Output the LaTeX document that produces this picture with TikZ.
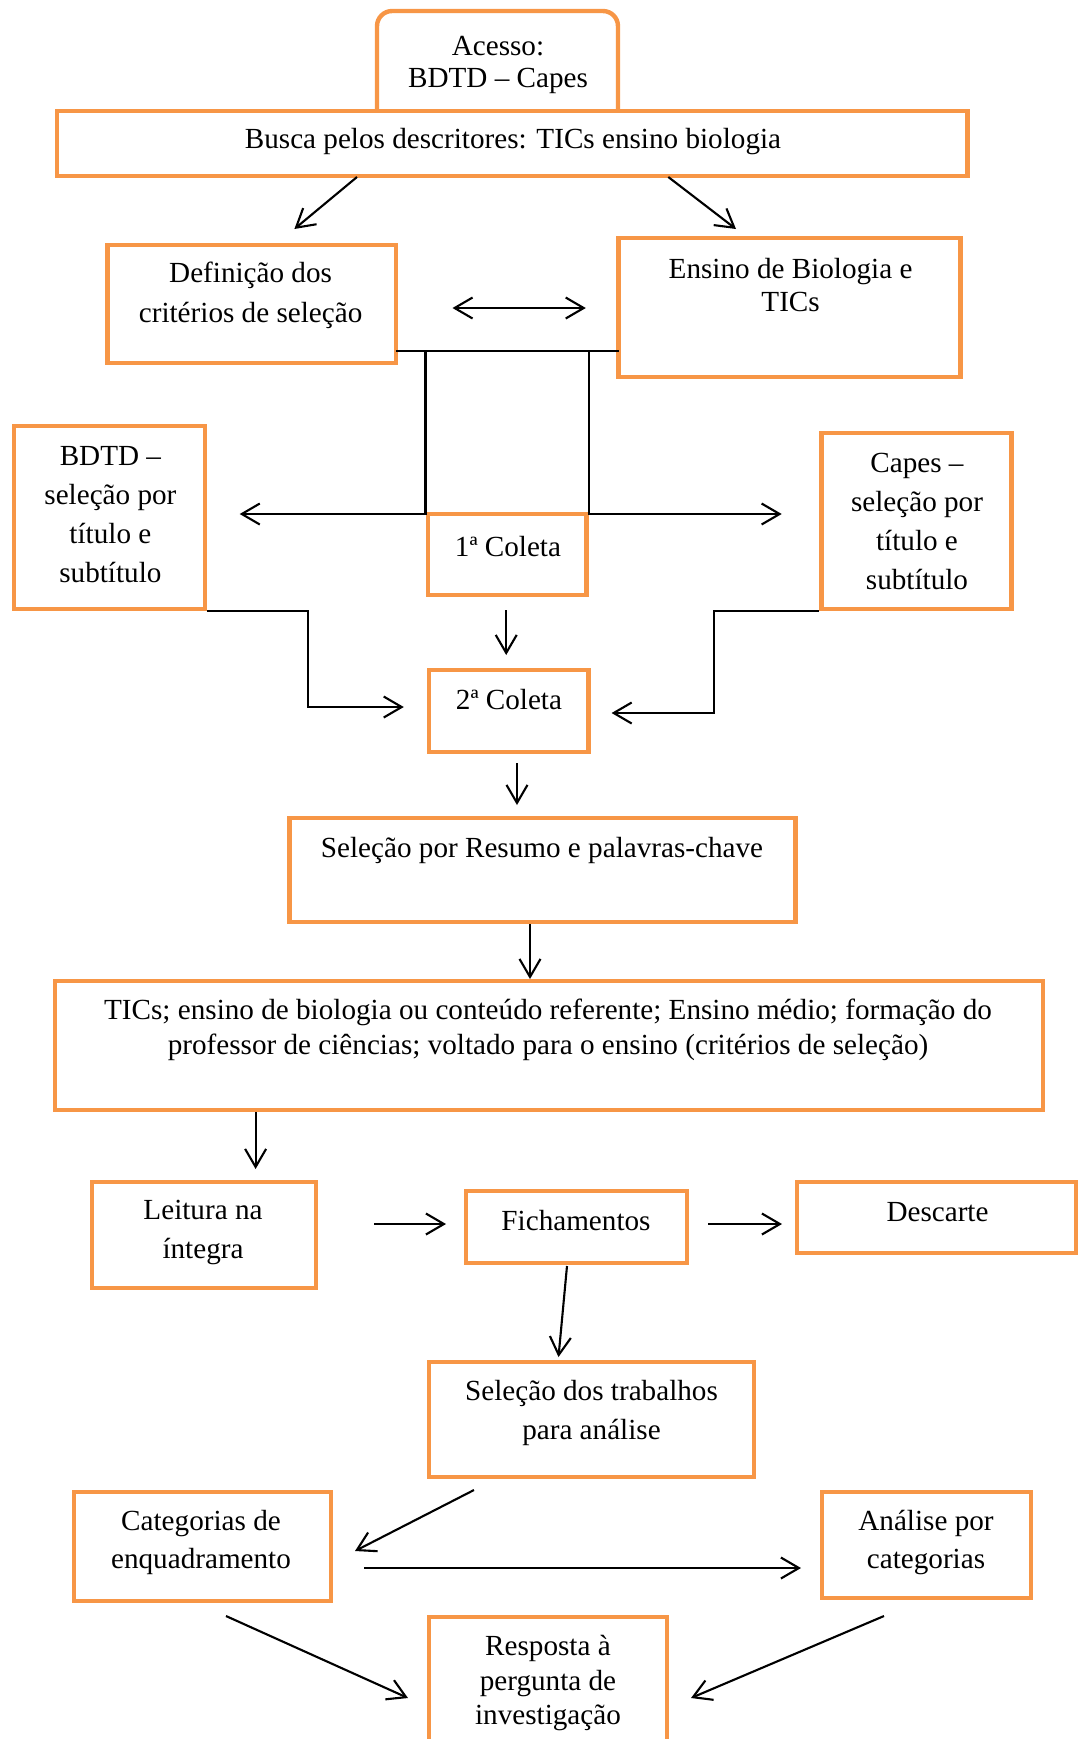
\documentclass[tikz,border=0pt]{standalone}
\usepackage{fontspec}
\setmainfont{Liberation Serif}
\usetikzlibrary{arrows.meta}
\definecolor{boxorange}{RGB}{247,150,70}
\newcommand\boxfont[1]{\fontsize{16.6}{#1}\selectfont}

\begin{document}
\begin{tikzpicture}[x=0.02cm, y=-0.02cm,
    box/.style={draw=boxorange, line width=2.5pt, fill=white, inner sep=0pt},
    txt/.style={align=center, inner sep=0pt, font=\boxfont{22.1}},
    conn/.style={line width=1.2pt},
    arr/.style={conn, -{Straight Barb[length=0.36cm, width=0.42cm]}}]

\useasboundingbox (0,0) rectangle (1080,1739);
\clip (0,0) rectangle (1080,1739);

\node[box, rounded corners=0.3cm, minimum width=4.82cm, minimum height=2.58cm] (acesso) at (497.5,75.5) {};
\node[box, minimum width=18.22cm, minimum height=1.30cm] (busca) at (512.2,143.5) {};
\node[box, minimum width=5.77cm, minimum height=2.36cm] (defin) at (251.6,304) {};
\node[box, minimum width=6.84cm, minimum height=2.78cm] (ensino) at (789.6,307.5) {};
\node[box, minimum width=3.82cm, minimum height=3.66cm] (bdtd) at (109.4,517.5) {};
\node[box, minimum width=3.80cm, minimum height=3.52cm] (capes) at (916.4,521) {};
\node[box, minimum width=3.18cm, minimum height=1.62cm] (coleta1) at (507.2,554.5) {};
\node[box, minimum width=3.20cm, minimum height=1.64cm] (coleta2) at (508.7,711) {};
\node[box, minimum width=10.12cm, minimum height=2.08cm] (resumo) at (542.5,870) {};
\node[box, minimum width=19.77cm, minimum height=2.58cm] (tics) at (549,1045.5) {};
\node[box, minimum width=4.49cm, minimum height=2.12cm] (leitura) at (204,1235) {};
\node[box, minimum width=4.42cm, minimum height=1.44cm] (ficha) at (576.5,1227) {};
\node[box, minimum width=5.58cm, minimum height=1.42cm] (descarte) at (936.5,1217.5) {};
\node[box, minimum width=6.50cm, minimum height=2.30cm] (trab) at (591.5,1419.5) {};
\node[box, minimum width=5.14cm, minimum height=2.18cm] (categ) at (202.5,1546.5) {};
\node[box, minimum width=4.18cm, minimum height=2.12cm] (analise) at (926.5,1545) {};
\node[box, minimum width=4.76cm, minimum height=3.20cm] (resposta) at (548,1697) {};

\node[txt, font=\boxfont{18.7}] (acessoT) at (498,65) {Acesso:\\BDTD – Capes};
\node[txt] (buscaT) at (513,142) {Busca pelos descritores: TICs ensino biologia};
\node[txt, font=\boxfont{22.7}] (definT) at (250.6,295.5) {Definição dos\\critérios de seleção};
\node[txt, font=\boxfont{19.3}] (ensinoT) at (790.6,285) {Ensino de Biologia e\\TICs};
\node[txt] (bdtdT) at (110.4,514.5) {BDTD –\\seleção por\\título e\\subtítulo};
\node[txt] (capesT) at (917,521.5) {Capes –\\seleção por\\título e\\subtítulo};
\node[txt] (coleta1T) at (508,547) {1ª Coleta};
\node[txt] (coleta2T) at (509,700) {2ª Coleta};
\node[txt] (resumoT) at (542,850) {Seleção por Resumo e palavras-chave};
\node[txt, font=\boxfont{19.8}] (ticsT) at (548,1029.5) {TICs; ensino de biologia ou conteúdo referente; Ensino médio; formação do\\professor de ciências; voltado para o ensino (critérios de seleção)};
\node[txt] (leituraT) at (203,1232.5) {Leitura na\\íntegra};
\node[txt] (fichaT) at (576,1221) {Fichamentos};
\node[txt] (descarteT) at (937.5,1212) {Descarte};
\node[txt] (trabT) at (591.5,1413) {Seleção dos trabalhos\\para análise};
\node[txt] (categT) at (201,1542.5) {Categorias de\\enquadramento};
\node[txt] (analiseT) at (926,1542.5) {Análise por\\categorias};
\node[txt, font=\boxfont{19.4}] (respostaT) at (548,1683) {Resposta à\\pergunta de\\investigação};

\coordinate (buscaL) at (357,177);
\coordinate (definIn) at (294.4,229);
\coordinate (buscaR) at (668.3,177);
\coordinate (ensinoIn) at (736,229);
\coordinate (twoL) at (452.5,308);
\coordinate (twoR) at (585.8,308);
\coordinate (barL) at (395.8,351);
\coordinate (barR) at (618.6,351);
\coordinate (bdtdIn) at (239.7,514);
\coordinate (capesIn) at (781.7,514);
\coordinate (c1out) at (506.2,610);
\coordinate (c2in) at (506.2,655);
\coordinate (bdtdBend) at (308.3,707);
\coordinate (c2left) at (403.8,707);
\coordinate (capesBend) at (714,713);
\coordinate (c2right) at (611.6,713);
\coordinate (c2out) at (517,763);
\coordinate (resumoIn) at (517,805);
\coordinate (resumoOut) at (530,924);
\coordinate (ticsIn) at (530,979);
\coordinate (ticsOut) at (255.6,1112);
\coordinate (leituraIn) at (255.6,1169);
\coordinate (leituraOut) at (374,1224);
\coordinate (fichaIn) at (446,1224);
\coordinate (fichaOut) at (708,1224);
\coordinate (descarteIn) at (782,1224);
\coordinate (fichaDown) at (567,1266);
\coordinate (trabIn) at (558.5,1357);
\coordinate (trabOut) at (474,1490);
\coordinate (categIn) at (355,1551);
\coordinate (categOut) at (364,1568);
\coordinate (analiseIn) at (801,1568);
\coordinate (categDown) at (226,1616);
\coordinate (respL) at (408,1698);
\coordinate (analiseDown) at (884,1616);
\coordinate (respR) at (691,1698);

\draw[arr] (buscaL) -- (definIn);
\draw[arr] (buscaR) -- (ensinoIn);
\draw[conn, {Straight Barb[length=0.36cm, width=0.42cm]}-{Straight Barb[length=0.36cm, width=0.42cm]}] (twoL) -- (twoR);
\draw[conn] (barL) -- (barR);
\draw[arr] (coleta1.north west |- barL) |- (bdtdIn);
\draw[arr] (coleta1.north east |- barR) |- (capesIn);
\draw[arr] (c1out) -- (c2in);
\draw[arr] (bdtd.south east) -| (bdtdBend) -- (c2left);
\draw[arr] (capes.south west) -| (capesBend) -- (c2right);
\draw[arr] (c2out) -- (resumoIn);
\draw[arr] (resumoOut) -- (ticsIn);
\draw[arr] (ticsOut) -- (leituraIn);
\draw[arr] (leituraOut) -- (fichaIn);
\draw[arr] (fichaOut) -- (descarteIn);
\draw[arr] (fichaDown) -- (trabIn);
\draw[arr] (trabOut) -- (categIn);
\draw[arr] (categOut) -- (analiseIn);
\draw[arr] (categDown) -- (respL);
\draw[arr] (analiseDown) -- (respR);
\end{tikzpicture}
\end{document}
